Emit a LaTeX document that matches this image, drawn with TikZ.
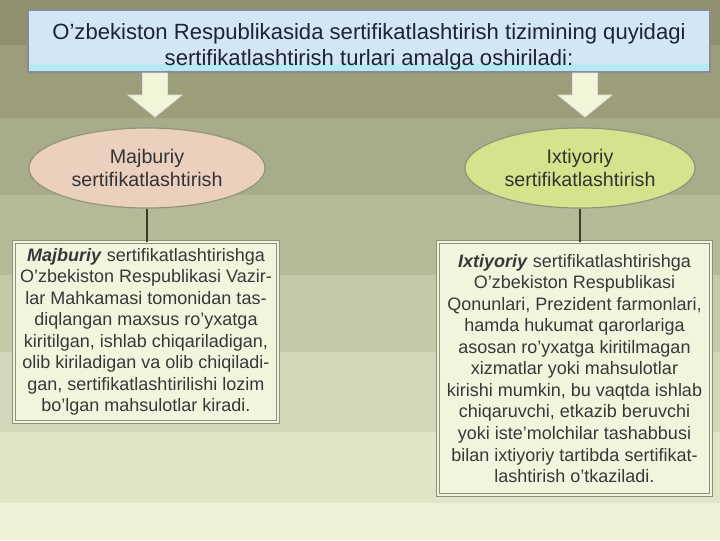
\documentclass[tikz,border=0pt]{standalone}
\usepackage{fontspec}
\setmainfont{Liberation Sans}
\usetikzlibrary{positioning,shapes.geometric}
\definecolor{bandA}{HTML}{8F906D}
\definecolor{bandB}{HTML}{9B9D7B}
\definecolor{bandC}{HTML}{A9AC8B}
\definecolor{bandD}{HTML}{B5B998}
\definecolor{bandE}{HTML}{C5C9AA}
\definecolor{bandF}{HTML}{D3D7BA}
\definecolor{bandG}{HTML}{E1E5C8}
\definecolor{bandH}{HTML}{EEF2D7}
\definecolor{titleblue}{HTML}{D2E6F6}
\definecolor{titlecyan}{HTML}{B6EAF2}
\definecolor{titletext}{HTML}{1E2434}
\definecolor{framegray}{HTML}{8A8A96}
\definecolor{peach}{HTML}{EBD0BE}
\definecolor{lime}{HTML}{D7E38C}
\definecolor{rimgray}{HTML}{8E9478}
\definecolor{boxfill}{HTML}{F1F5DE}
\definecolor{boxgray}{HTML}{8C9078}
\definecolor{arrowfill}{HTML}{F2F6D8}
\definecolor{linkcol}{HTML}{3A3E28}

\begin{document}
\begin{tikzpicture}[
x=0.025cm, y=-0.025cm,
titlebox/.style={rectangle, fill=titleblue, draw=framegray, line width=1.2pt,
  minimum width=17.05cm, minimum height=1.55cm, align=center, text=titletext,
  font=\fontsize{15.7}{18.3}\selectfont,
  path picture={\fill[titlecyan] (path picture bounding box.south west)
    rectangle ([yshift=0.2cm]path picture bounding box.south east);}},
kind/.style={ellipse, draw=rimgray, line width=0.8pt, minimum height=2cm,
  align=center, text=black!80, font=\fontsize{14}{17}\selectfont},
textbox/.style={rectangle, fill=boxfill, draw=boxgray, double=boxfill,
  double distance=1.4pt, line width=0.6pt, align=center, text=black!78,
  font=\fontsize{12.8}{15.3}\selectfont},
bigarrow/.style={fill=arrowfill, draw=white!75!gray, line width=0.6pt},
link/.style={draw=linkcol, line width=1.1pt}]

\useasboundingbox (0,0) rectangle (720,540);
\foreach \ya/\yb/\c in {0/45/bandA, 45/118/bandB, 118/195/bandC, 195/275/bandD,
  275/352/bandE, 352/432/bandF, 432/503/bandG, 503/540/bandH}
  \fill[\c] (0,\ya) rectangle (720,\yb);

\node[titlebox] (title) at (369,41)
  {\raisebox{-4.5pt}[\height][\depth]{\begin{tabular}{@{}c@{}}
   O’zbekiston Respublikasida sertifikatlashtirish tizimining quyidagi\\
   sertifikatlashtirish turlari amalga oshiriladi:\end{tabular}}};

\node[kind, fill=peach, minimum width=5.9cm] (majb) at (147,168)
  {Majburiy\\sertifikatlashtirish};
\node[kind, fill=lime, minimum width=5.75cm] (ixt) at (580,168)
  {Ixtiyoriy\\sertifikatlashtirish};

\foreach \ax in {155,585}
  \filldraw[bigarrow] (\ax-12.5,73) -- (\ax-12.5,95) -- (\ax-27,95) -- (\ax,117)
    -- (\ax+27,95) -- (\ax+12.5,95) -- (\ax+12.5,73) -- cycle;

\node[textbox, minimum width=6.6cm, minimum height=4.5cm] (majbtxt) at (146,332)
  {\textbf{\textit{Majburiy}} sertifikatlashtirishga\\
   O’zbekiston Respublikasi Vazir-\\
   lar Mahkamasi tomonidan tas-\\
   diqlangan maxsus ro’yxatga\\
   kiritilgan, ishlab chiqariladigan,\\
   olib kiriladigan va olib chiqiladi-\\
   gan, sertifikatlashtirilishi lozim\\
   bo’lgan mahsulotlar kiradi.};
\node[textbox, minimum width=6.825cm, minimum height=6.325cm] (ixttxt) at (574.5,368.5)
  {\textbf{\textit{Ixtiyoriy}} sertifikatlashtirishga\\
   O’zbekiston Respublikasi\\
   Qonunlari, Prezident farmonlari,\\
   hamda hukumat qarorlariga\\
   asosan ro’yxatga kiritilmagan\\
   xizmatlar yoki mahsulotlar\\
   kirishi mumkin, bu vaqtda ishlab\\
   chiqaruvchi, etkazib beruvchi\\
   yoki iste’molchilar tashabbusi\\
   bilan ixtiyoriy tartibda sertifikat-\\
   lashtirish o’tkaziladi.};

\draw[link] (majb.south) -- (majb.south |- majbtxt.north);
\draw[link] (ixt.south) -- (ixt.south |- ixttxt.north);
\end{tikzpicture}
\end{document}
